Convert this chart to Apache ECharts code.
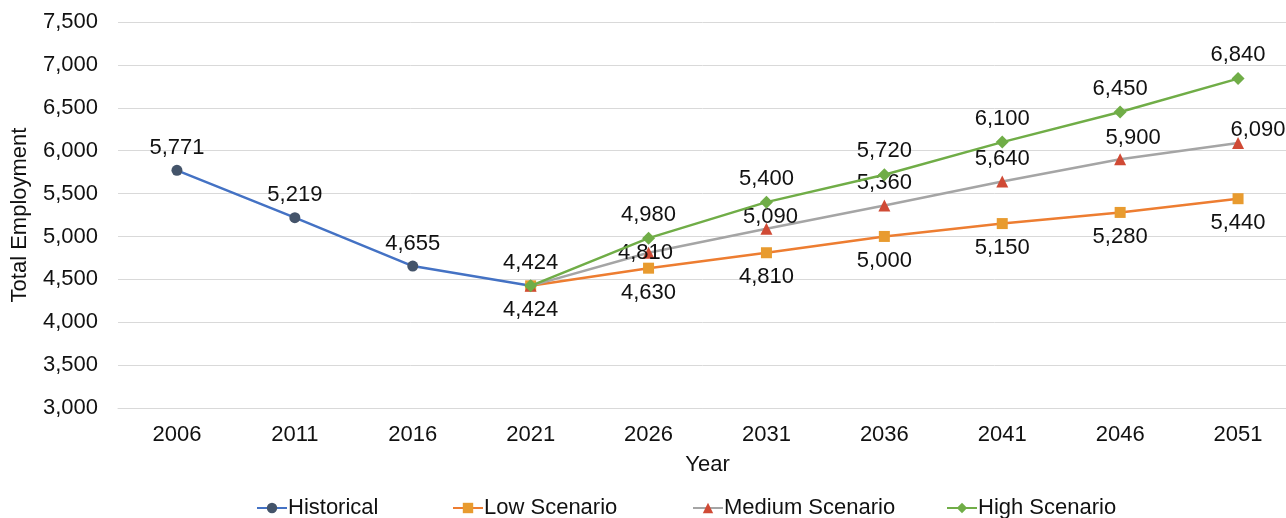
<!DOCTYPE html>
<html><head><meta charset="utf-8">
<script src="https://cdn.jsdelivr.net/npm/echarts@6/dist/echarts.min.js"></script>
<style>html,body{margin:0;padding:0;background:#fff}#c{width:1286px;height:518px}</style>
</head><body><div id="c"></div>
<script>
const years = ['2006','2011','2016','2021','2026','2031','2036','2041','2046','2051'];
const historical = [5771, 5219, 4655, 4424, null, null, null, null, null, null];
const lowScenario = [null, null, null, 4424, 4630, 4810, 5000, 5150, 5280, 5440];
const mediumScenario = [null, null, null, 4424, 4810, 5090, 5360, 5640, 5900, 6090];
const highScenario = [null, null, null, 4424, 4980, 5400, 5720, 6100, 6450, 6840];
const yTicks = [3000, 3500, 4000, 4500, 5000, 5500, 6000, 6500, 7000, 7500];

const FONT = 'Liberation Sans, Arial, sans-serif';
const FS = 22;
const TXT = '#111';
const fmt = v => Number(v).toLocaleString('en-US');

function build(values, overrides, hideIdx) {
  return values.map((v, i) => {
    if (v === null) return null;
    const item = { value: v };
    if (hideIdx && hideIdx.includes(i)) { item.label = { show: false }; }
    else if (overrides && overrides[i]) { item.label = overrides[i]; }
    return item;
  });
}

const baseLabel = (pos) => ({
  show: true, position: pos, distance: pos === 'top' ? 6 : 8,
  fontFamily: FONT, fontSize: FS, color: TXT,
  formatter: p => fmt(p.value)
});

const chart = echarts.init(document.getElementById('c'), null, { renderer: 'canvas' });
const legendBase = { top: 492, itemWidth: 30, itemHeight: 13,
  textStyle: { fontFamily: FONT, fontSize: FS, color: TXT, padding: [0,0,0,-4] } };

chart.setOption({
  animation: false,
  grid: { left: 118, width: 1179, top: 22, height: 386, outerBoundsMode: 'none', containLabel: false },
  xAxis: {
    type: 'category', data: years, boundaryGap: true,
    name: 'Year', nameLocation: 'middle', nameGap: 46,
    nameTextStyle: { fontFamily: FONT, fontSize: FS, color: TXT },
    axisLine: { lineStyle: { color: '#D9D9D9' } },
    axisTick: { show: false },
    axisLabel: { fontFamily: FONT, fontSize: FS, color: TXT, margin: 16 }
  },
  yAxis: {
    type: 'value', min: yTicks[0], max: yTicks[yTicks.length - 1], interval: 500,
    name: 'Total Employment', nameLocation: 'middle', nameGap: 87, nameRotate: 90,
    nameTextStyle: { fontFamily: FONT, fontSize: FS, color: TXT },
    axisLine: { show: false }, axisTick: { show: false },
    axisLabel: { fontFamily: FONT, fontSize: FS, color: TXT, margin: 20, formatter: v => fmt(v) },
    splitLine: { lineStyle: { color: '#D9D9D9', width: 1 } }
  },
  legend: [
    Object.assign({}, legendBase, { data: ['Historical'], left: 251 }),
    Object.assign({}, legendBase, { data: ['Low Scenario'], left: 447 }),
    Object.assign({}, legendBase, { data: ['Medium Scenario'], left: 687 }),
    Object.assign({}, legendBase, { data: ['High Scenario'], left: 941 })
  ],
  series: [
    {
      name: 'Historical', type: 'line', data: build(historical),
      symbol: 'circle', symbolSize: 11,
      lineStyle: { color: '#4472C4', width: 2.5 },
      itemStyle: { color: '#44546A' },
      label: baseLabel('top'), z: 2
    },
    {
      name: 'Low Scenario', type: 'line', data: build(lowScenario),
      symbol: 'rect', symbolSize: 11,
      lineStyle: { color: '#ED7D31', width: 2.5 },
      itemStyle: { color: '#E89B2F' },
      label: baseLabel('bottom'), z: 3
    },
    {
      name: 'Medium Scenario', type: 'line',
      data: build(mediumScenario, {
        4: { offset: [-3, 23] },
        5: { offset: [4, 11] },
        8: { offset: [13, 2] },
        9: { offset: [20, 10] }
      }, [3]),
      symbol: 'triangle', symbolSize: 12,
      lineStyle: { color: '#A5A5A5', width: 2.5 },
      itemStyle: { color: '#D04A35' },
      label: baseLabel('top'), z: 4
    },
    {
      name: 'High Scenario', type: 'line', data: build(highScenario, null, [3]),
      symbol: 'diamond', symbolSize: 13,
      lineStyle: { color: '#70AD47', width: 2.5 },
      itemStyle: { color: '#70AD47' },
      label: baseLabel('top'), z: 5
    }
  ]
});
</script></body></html>
